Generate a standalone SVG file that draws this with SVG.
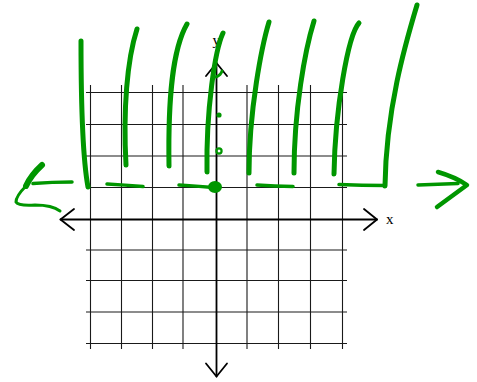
<svg xmlns="http://www.w3.org/2000/svg" width="477" height="382" viewBox="0 0 477 382">
<style>
.grid{stroke:#1a1a1a;stroke-width:1.1;fill:none}
.axis{stroke:#000;stroke-width:1.8;fill:none;stroke-linecap:round;stroke-linejoin:round}
.ink{stroke:#009600;fill:none;stroke-linecap:round;stroke-linejoin:round}
.v{stroke-width:5}
.h{stroke-width:3.5}
.lbl{font-family:"Liberation Serif",serif;font-size:15px;fill:#000}
</style>
<rect width="477" height="382" fill="#fff"/>
<g id="grid" class="grid">
<path d="M90.5,85V349M121.5,85V349M152.5,85V349M183,85V349M247,85V349M278.5,85V349M310.5,85V349M342.5,85V349"/>
<path d="M86,92.5H347M86,124.5H347M86,156H347M86,187.5H347M86,250H347M86,280.5H347M86,312H347M86,343.5H347"/>
</g>
<g id="axes" class="axis">
<path d="M60.5,219.5H377"/>
<path d="M74,209L60.5,219.5L74,230M364,209L377,219.5L364,230"/>
<path d="M216.5,63V376.5"/>
<path d="M206,76L216.5,63L227,76M206,363.5L216.5,376.5L227,363.5"/>
</g>
<g id="labels">
<text class="lbl" x="386" y="223.5">x</text>
<text class="lbl" x="212.5" y="45">y</text>
</g>
<g id="strokes">
<path class="ink v" d="M81,41 C81,100 83,160 88,187"/>
<path class="ink v" d="M137,29 C127,60 123,110 126,165"/>
<path class="ink v" d="M187,24 C172,50 168,100 169,166"/>
<path class="ink v" d="M223,33 C215,50 206,110 207,172"/>
<path class="ink v" d="M269,22 C262,45 249,110 249,173"/>
<path class="ink v" d="M314,21 C305,50 294,110 294,173"/>
<path class="ink v" d="M359,23 C348,35 335,110 334,174"/>
<path class="ink v" d="M417,5 C405,45 386,110 385,186"/>
<path class="ink h" d="M33,183.5 Q52,182 72,182"/>
<path class="ink h" d="M107,184 Q125,185 143,186.5"/>
<path class="ink h" d="M179,185 Q196,186 213,187.5"/>
<path class="ink h" d="M257,185 Q275,186 293,186.5"/>
<path class="ink h" d="M339,184.5 Q362,185.5 385,185.5"/>
<path class="ink h" d="M418,185 Q438,184 458,183.5"/>
<path class="ink" stroke-width="6" d="M42,165 Q31,175 26,186"/>
<path class="ink" stroke-width="3" d="M26,186 Q16,196 16,202 Q18,206 35,205 Q52,205 60,211"/>
<path class="ink" stroke-width="4.5" d="M438,172 Q455,177 467,185 Q452,196 437,207"/>
<ellipse cx="215" cy="187" rx="7" ry="6" fill="#009600"/>
<circle cx="219" cy="115" r="2.6" fill="#009600"/>
<circle cx="219" cy="151" r="2.6" fill="none" stroke="#009600" stroke-width="2.2"/>
<path class="ink" stroke-width="3" d="M216,77 Q221,75 222,71"/>
</g>
</svg>
